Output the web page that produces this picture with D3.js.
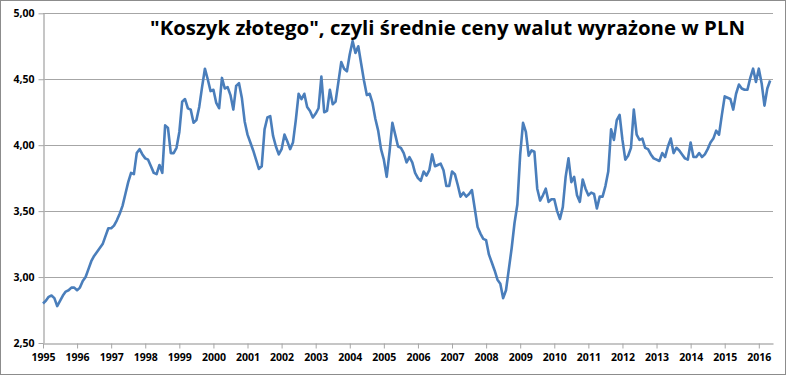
<!DOCTYPE html>
<html>
<head>
<meta charset="utf-8">
<script src="https://cdn.jsdelivr.net/npm/d3@7"></script>
<style>
  body { margin: 0; background: #fff; }
  svg { display: block; }
  text { font-family: "Open Sans", Lato, sans-serif; }
</style>
</head>
<body>
<svg id="chart" width="786" height="375"></svg>
<script>
// monthly average of the zloty basket, Jan 1995 .. May 2016
var startYear = 1995;
var yearTicks = d3.range(1995, 2017);
var valueTicks = [2.5, 3.0, 3.5, 4.0, 4.5, 5.0];
var titleText = '"Koszyk złotego", czyli średnie ceny walut wyrażone w PLN';

var basket = [
  2.80, 2.82, 2.85, 2.86, 2.84, 2.78, 2.82, 2.86, 2.89, 2.90, 2.92, 2.92,
  2.90, 2.92, 2.97, 3.00, 3.06, 3.12, 3.16, 3.19, 3.22, 3.25, 3.31, 3.37,
  3.37, 3.39, 3.43, 3.48, 3.54, 3.63, 3.72, 3.79, 3.78, 3.94, 3.97, 3.93,
  3.90, 3.89, 3.84, 3.79, 3.78, 3.85, 3.79, 4.15, 4.13, 3.94, 3.94, 3.98,
  4.10, 4.33, 4.35, 4.28, 4.27, 4.17, 4.19, 4.29, 4.44, 4.58, 4.50, 4.41,
  4.42, 4.32, 4.28, 4.51, 4.43, 4.44, 4.38, 4.27, 4.45, 4.47, 4.36, 4.18,
  4.08, 4.02, 3.96, 3.89, 3.82, 3.84, 4.12, 4.21, 4.22, 4.07, 3.99, 3.93,
  3.97, 4.08, 4.03, 3.97, 4.02, 4.19, 4.39, 4.35, 4.39, 4.29, 4.26, 4.21,
  4.24, 4.28, 4.52, 4.25, 4.26, 4.42, 4.31, 4.33, 4.48, 4.63, 4.58, 4.56,
  4.69, 4.79, 4.70, 4.75, 4.62, 4.49, 4.38, 4.39, 4.32, 4.20, 4.11, 3.97,
  3.89, 3.76, 3.95, 4.17, 4.08, 3.99, 3.98, 3.94, 3.87, 3.91, 3.87, 3.79,
  3.75, 3.73, 3.80, 3.77, 3.81, 3.93, 3.84, 3.85, 3.86, 3.81, 3.69, 3.69,
  3.80, 3.78, 3.70, 3.61, 3.64, 3.61, 3.63, 3.66, 3.52, 3.38, 3.33, 3.29,
  3.28, 3.17, 3.11, 3.05, 2.98, 2.95, 2.84, 2.90, 3.06, 3.22, 3.41, 3.55,
  3.93, 4.17, 4.10, 3.92, 3.96, 3.95, 3.67, 3.58, 3.62, 3.67, 3.57, 3.59,
  3.59, 3.50, 3.44, 3.53, 3.76, 3.90, 3.72, 3.76, 3.62, 3.57, 3.74, 3.67,
  3.62, 3.64, 3.63, 3.52, 3.61, 3.61, 3.69, 3.80, 4.12, 4.04, 4.19, 4.23,
  4.04, 3.89, 3.92, 3.98, 4.27, 4.08, 4.04, 4.05, 3.98, 3.97, 3.93, 3.90,
  3.89, 3.88, 3.94, 3.91, 3.99, 4.05, 3.94, 3.98, 3.96, 3.93, 3.90, 3.89,
  4.02, 3.91, 3.91, 3.94, 3.91, 3.93, 3.97, 4.02, 4.05, 4.11, 4.08, 4.23,
  4.37, 4.36, 4.35, 4.27, 4.39, 4.46, 4.43, 4.42, 4.42, 4.51, 4.58, 4.48,
  4.58, 4.47, 4.30, 4.43, 4.49
];

var svg = d3.select('#chart');

// outer frame
svg.append('rect')
  .attr('x', 0.5).attr('y', 0.5)
  .attr('width', 785).attr('height', 374)
  .attr('fill', '#fff')
  .attr('stroke', '#8c8c8c');

var x = d3.scaleLinear()
  .domain([startYear, 2016 + 5 / 12])
  .range([43, 773]);

var y = d3.scaleLinear()
  .domain([2.5, 5.0])
  .range([343, 13.3]);

// gridlines
svg.append('g')
  .selectAll('line')
  .data(valueTicks.slice(1))
  .enter().append('line')
  .attr('x1', x.range()[0]).attr('x2', x.range()[1])
  .attr('y1', function (d) { return Math.round(y(d)) + 0.5; })
  .attr('y2', function (d) { return Math.round(y(d)) + 0.5; })
  .attr('stroke', '#a6a6a6')
  .attr('stroke-width', 1);

var fmt = function (d) { return d3.format('.2f')(d).replace('.', ','); };

var yAxis = svg.append('g')
  .attr('transform', 'translate(43.5,0)')
  .call(d3.axisLeft(y).tickValues(valueTicks).tickSize(5).tickSizeOuter(0).tickPadding(4).tickFormat(fmt));

var xAxis = svg.append('g')
  .attr('transform', 'translate(0,' + (Math.round(y(2.5)) + 0.5) + ')')
  .call(d3.axisBottom(x).tickValues(yearTicks).tickSize(5).tickSizeOuter(0).tickPadding(5).tickFormat(d3.format('d')));

[yAxis, xAxis].forEach(function (g) {
  g.select('.domain').attr('stroke', '#b3b3b3').attr('stroke-width', 1.5);
  g.selectAll('.tick line').attr('stroke', '#a6a6a6');
  g.selectAll('.tick text')
    .attr('fill', '#000')
    .attr('font-size', '10.5px')
    .attr('font-weight', 'bold')
    .attr('font-family', '"Open Sans", sans-serif');
});

// the series
var line = d3.line()
  .x(function (d, i) { return x(startYear + i / 12); })
  .y(function (d) { return y(d); });

svg.append('path')
  .datum(basket)
  .attr('d', line)
  .attr('fill', 'none')
  .attr('stroke', '#4a7ebb')
  .attr('stroke-width', 2.6)
  .attr('stroke-linejoin', 'round');

svg.append('text')
  .attr('x', 150)
  .attr('y', 35)
  .attr('font-size', '20px')
  .attr('font-weight', 'bold')
  .attr('fill', '#000')
  .attr('textLength', 595)
  .attr('lengthAdjust', 'spacingAndGlyphs')
  .text(titleText);
</script>
</body>
</html>
